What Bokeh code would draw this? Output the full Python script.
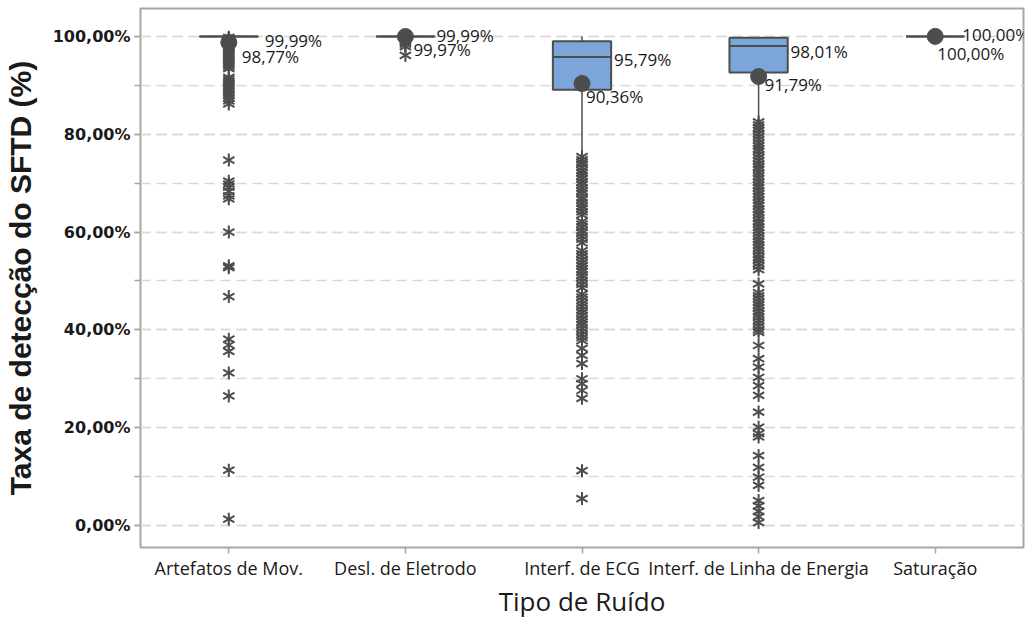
from bokeh.plotting import figure
from bokeh.models import (FactorRange, Range1d, FixedTicker, ColumnDataSource,
                          LabelSet)
from bokeh.transform import dodge
from bokeh.core.properties import value
from bokeh.embed import file_html
from bokeh.resources import INLINE

# Noise types
categories = ["Artefatos de Mov.", "Desl. de Eletrodo", "Interf. de ECG",
              "Interf. de Linha de Energia", "Saturação"]

# Box statistics (%)
q1 = [99.98, 99.98, 89.10, 92.60, 100.00]
median = [99.99, 99.99, 95.79, 98.01, 100.00]
q3 = [100.00, 100.00, 99.00, 99.70, 100.00]
mean = [98.77, 99.97, 90.36, 91.79, 100.00]
whisker_low = [99.98, 99.98, 75.80, 82.80, 100.00]
whisker_high = [100.00, 100.00, 100.00, 100.00, 100.00]

# Outliers per noise type (%)
out_artefatos = [99.8, 99.6, 99.5, 99.3, 99.1, 98.9, 98.6, 98.4, 98.1, 97.8,
                 97.5, 97.2, 96.9, 96.5, 96.2, 95.8, 95.4, 95.0, 94.6, 94.2,
                 93.8, 93.4, 91.6, 91.2, 90.8, 90.4, 90.0, 89.6, 89.2, 88.8,
                 88.3, 87.9, 87.4, 86.8, 86.2, 74.7, 70.4, 69.8, 69.2, 68.3,
                 67.4, 66.8, 60.0, 53.1, 52.7, 46.8, 38.1, 36.9, 35.6, 31.2,
                 26.5, 11.3, 1.3]
out_eletrodo = [99.8, 99.5, 99.2, 98.8, 98.4, 97.9, 96.1]
out_ecg = [75.4, 74.8, 74.3, 73.9, 73.2, 72.6, 72.1, 71.5, 70.9, 70.2,
           69.7, 69.0, 68.4, 67.9, 67.1, 66.6, 65.9, 65.3, 64.8, 64.1,
           63.5, 62.2, 61.6, 61.0, 60.3, 59.8, 59.1, 58.5, 57.8, 56.2,
           55.6, 55.0, 54.3, 53.7, 53.1, 52.4, 51.9, 51.2, 50.6, 49.9,
           49.3, 48.6, 47.3, 46.7, 46.0, 45.4, 44.8, 44.1, 43.5, 42.9,
           42.2, 41.6, 41.0, 40.3, 39.7, 39.0, 38.4, 37.8, 36.2, 34.8,
           33.1, 30.0, 29.0, 27.6, 26.0, 11.2, 5.5]
out_linha = [82.5, 81.9, 81.3, 80.8, 80.1, 79.5, 78.9, 78.2, 77.6, 77.0,
             76.5, 75.8, 75.2, 74.6, 73.9, 73.3, 72.8, 72.1, 71.5, 70.9,
             70.2, 69.6, 69.1, 68.4, 67.8, 67.2, 66.5, 65.9, 65.4, 64.7,
             64.1, 63.5, 62.8, 62.2, 61.7, 61.0, 60.4, 59.8, 59.1, 58.5,
             58.0, 57.3, 56.7, 56.1, 55.4, 54.8, 54.3, 53.6, 53.0, 52.3,
             49.4, 47.6, 47.0, 46.4, 45.7, 45.1, 44.5, 43.8, 43.2, 42.6,
             41.9, 41.3, 40.7, 40.0, 39.5, 36.8, 34.1, 32.4, 30.3, 28.6,
             26.6, 23.2, 20.1, 18.8, 18.1, 14.3, 11.9, 9.9, 8.2, 5.1,
             4.0, 2.9, 1.8, 0.6]
outliers = [out_artefatos, out_eletrodo, out_ecg, out_linha, []]

y_ticks = [0, 20, 40, 60, 80, 100]
y_minor = [0, 10, 20, 30, 40, 50, 60, 70, 80, 90, 100]


def pct(v):
    return f"{v:.2f}".replace(".", ",") + "%"


DARK = "#4d4d4d"
BOX_FILL = "#7ca6d9"
FRAME = "#a6a6a6"
TEXT = "#1a1a1a"
BOX_W = 0.33

p = figure(x_range=FactorRange(*categories), y_range=Range1d(-4.5, 105.7),
           width=1032, height=621, output_backend="svg", toolbar_location=None,
           min_border_left=140, min_border_right=9, min_border_top=8,
           min_border_bottom=72, background_fill_color="white")

p.outline_line_color = FRAME
p.outline_line_width = 2

# x axis
p.xaxis.axis_line_color = None
p.xaxis.major_tick_line_color = FRAME
p.xaxis.major_tick_line_width = 1.5
p.xaxis.major_tick_out = 6
p.xaxis.major_tick_in = 0
p.xaxis.major_label_standoff = 2
p.xaxis.major_label_text_font = "Open Sans"
p.xaxis.major_label_text_font_size = "18px"
p.xaxis.major_label_text_color = TEXT
p.xaxis.axis_label = "Tipo de Ruído"
p.xaxis.axis_label_text_font = "Open Sans"
p.xaxis.axis_label_text_font_size = "26px"
p.xaxis.axis_label_text_font_style = "normal"
p.xaxis.axis_label_text_color = TEXT
p.xaxis.axis_label_standoff = 0

# y axis
p.yaxis.ticker = FixedTicker(ticks=y_ticks, minor_ticks=y_minor)
p.yaxis.major_label_overrides = {t: pct(t) for t in y_ticks}
p.yaxis.axis_line_color = None
p.yaxis.major_tick_line_color = FRAME
p.yaxis.minor_tick_line_color = FRAME
p.yaxis.major_tick_line_width = 1.5
p.yaxis.minor_tick_line_width = 1.5
p.yaxis.major_tick_out = 6
p.yaxis.major_tick_in = 0
p.yaxis.minor_tick_out = 6
p.yaxis.minor_tick_in = 0
p.yaxis.major_label_standoff = 4
p.yaxis.major_label_text_font = "DejaVu Sans"
p.yaxis.major_label_text_font_style = "bold"
p.yaxis.major_label_text_font_size = "16px"
p.yaxis.major_label_text_color = TEXT
p.yaxis.axis_label = "Taxa de detecção do SFTD (%)"
p.yaxis.axis_label_text_font = "Liberation Sans"
p.yaxis.axis_label_text_font_style = "bold"
p.yaxis.axis_label_text_font_size = "30px"
p.yaxis.axis_label_text_color = TEXT
p.yaxis.axis_label_standoff = 13

# dashed horizontal grid every 10 %
p.xgrid.grid_line_color = None
p.ygrid.grid_line_color = "#d9d9d9"
p.ygrid.grid_line_width = 1.5
p.ygrid.grid_line_dash = "10 6"
p.ygrid.minor_grid_line_color = "#d9d9d9"
p.ygrid.minor_grid_line_width = 1.5
p.ygrid.minor_grid_line_dash = "10 6"

box = ColumnDataSource(dict(cat=categories, q1=q1, q3=q3, med=median, mean=mean,
                            wl=whisker_low, wh=whisker_high))

# whiskers
p.segment(x0="cat", x1="cat", y0="q1", y1="wl", source=box,
          line_color=DARK, line_width=1.5)
p.segment(x0="cat", x1="cat", y0="q3", y1="wh", source=box,
          line_color=DARK, line_width=1.5)

# interquartile boxes and medians
p.vbar(x="cat", width=BOX_W, bottom="q1", top="q3", source=box,
       fill_color=BOX_FILL, line_color=DARK, line_width=2)
p.segment(x0=dodge("cat", -BOX_W / 2, range=p.x_range),
          x1=dodge("cat", BOX_W / 2, range=p.x_range),
          y0="med", y1="med", source=box, line_color=DARK, line_width=2)

# means
p.scatter(x="cat", y="mean", source=box, marker="circle", size=16,
          fill_color=DARK, line_color=DARK)

# outliers as six-armed asterisks
ox, oy = [], []
for c, vals in zip(categories, outliers):
    ox += [c] * len(vals)
    oy += vals
osrc = ColumnDataSource(dict(x=ox, y=oy))
for ang in (1.5708, 0.5236, -0.5236):
    p.scatter(x="x", y="y", source=osrc, marker="dash", size=13, angle=ang,
              line_color=DARK, line_width=2)

# data labels for median and mean
med_dx = [36, 31, 32, 32, 27]
med_dy = [-4, 1, -3, -5, 2]
mean_dx = [13, 8, 4, 6, 2]
mean_dy = [-14, -13, -13, -8, -17]
lab = ColumnDataSource(dict(
    x=categories + categories,
    y=median + mean,
    t=[pct(v) for v in median] + [pct(v) for v in mean],
    dx=med_dx + mean_dx,
    dy=med_dy + mean_dy,
))
p.add_layout(LabelSet(x="x", y="y", text="t", source=lab,
                      x_offset="dx", y_offset="dy",
                      text_font=value("Open Sans"), text_font_size="17px",
                      text_color=TEXT, text_baseline="middle",
                      text_align="left"))

open("out.html", "w").write(file_html(p, INLINE))
